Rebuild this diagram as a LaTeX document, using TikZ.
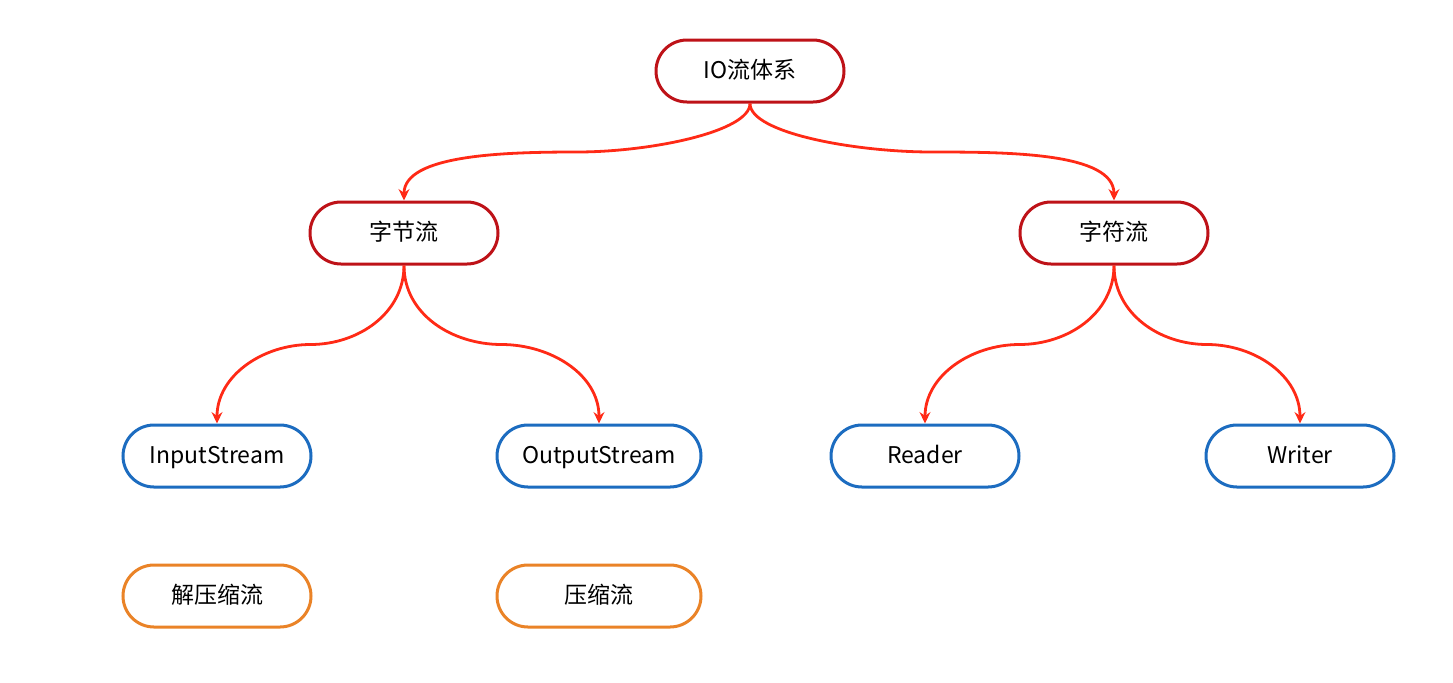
\documentclass[tikz,border=0pt]{standalone}
\usepackage{fontspec}
\setmainfont{Noto Sans CJK SC}
\usepackage{tikz}
\usetikzlibrary{positioning,arrows.meta,calc}

\definecolor{rootred}{HTML}{BE1218}
\definecolor{linkred}{HTML}{FF2A16}
\definecolor{streamblue}{HTML}{1C6CC0}
\definecolor{ziporange}{HTML}{EA8327}

\begin{document}
\begin{tikzpicture}[
  x=0.5pt, y=-0.5pt,
  pill/.style={draw, line width=1.5pt, rounded corners=15.5pt,
               minimum width=94pt, minimum height=31pt,
               font=\fontsize{11.5}{13}\selectfont, text=black,
               text height=8.5pt, text depth=1.5pt,
               fill=white, inner sep=0pt},
  topic/.style={pill, draw=rootred},
  stream/.style={pill, draw=streamblue},
  zip/.style={pill, draw=ziporange},
  link/.style={-{Stealth[length=2mm,width=1.9mm]}, line width=1.4pt,
               linkred}
]
  \useasboundingbox (0,0) rectangle (1453,682);

  % Top level
  \node[topic] (io) at (750,71) {IO流体系};
  \node[topic] (byte) at (404,233) {字节流};
  \node[topic] (char) at (1114,233) {字符流};

  % Stream classes
  \node[stream] (in) at (217,456) {InputStream};
  \node[stream, minimum width=102pt] (out) at (599,456) {OutputStream};
  \node[stream] (rd) at (925,456) {Reader};
  \node[stream] (wr) at (1300,456) {Writer};

  % Compression
  \node[zip, below=37.5pt of in] (unzip) {解压缩流};
  \node[zip, minimum width=102pt, below=37.5pt of out] (dozip) {压缩流};

  % Links: down, across, down
  \foreach \a/\b/\i/\o/\v/\h/\w in {io/byte/0/180/0.4/1.05/0.65, io/char/180/0/0.4/1.05/0.65,
                                    byte/in/0/180/1/1/1, byte/out/180/0/1/1/1,
                                    char/rd/0/180/1/1/1, char/wr/180/0/1/1/1}
    \draw[link] (\a.south) to[out=-90, in=\i, out looseness=\v, in looseness=\h]
      ($(\a.south)!0.5!(\b.north)$)
      to[out=\o, in=90, out looseness=\h, in looseness=\w] (\b.north);
\end{tikzpicture}
\end{document}
